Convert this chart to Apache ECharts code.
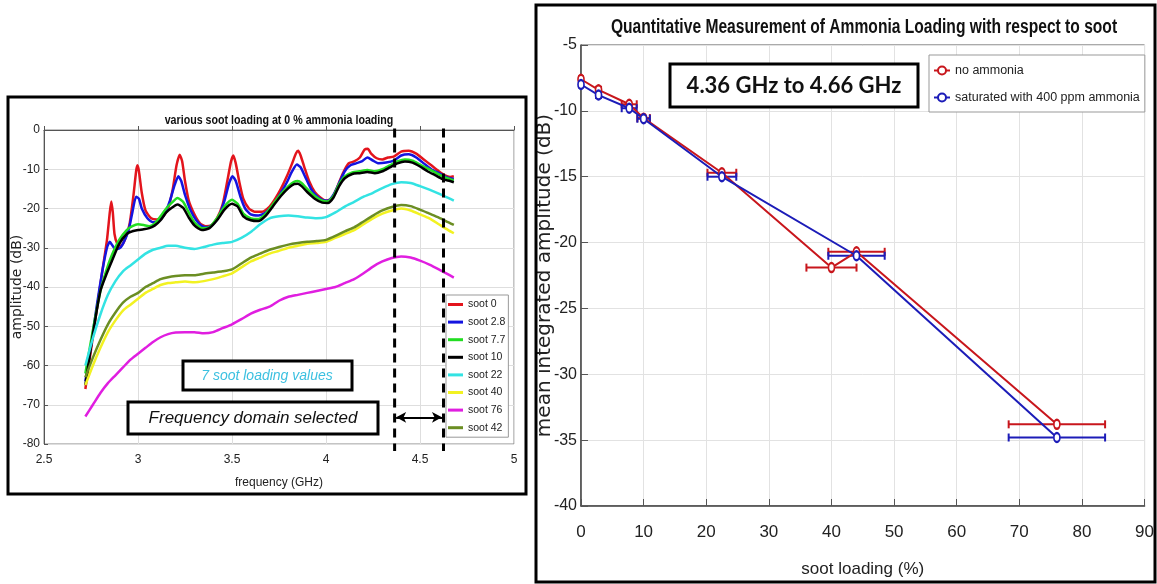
<!DOCTYPE html>
<html>
<head>
<meta charset="utf-8">
<script src="https://cdn.jsdelivr.net/npm/echarts@6/dist/echarts.min.js"></script>
<style>
  html, body { margin: 0; padding: 0; background: #fff; }
  #main { width: 1157px; height: 584px; }
</style>
</head>
<body>
<div id="main"></div>
<script>
// ---- left panel: spectra, [frequency GHz, amplitude dB] ----
const soot0 = [[2.72,-66],[2.75,-56],[2.78,-46],[2.81,-36],[2.835,-28],[2.85,-21],[2.858,-18.2],[2.866,-21],[2.875,-26.5],[2.89,-29],[2.91,-29.5],[2.93,-28],[2.955,-24],[2.975,-17],[2.99,-10.5],[2.997,-9],[3.005,-10.5],[3.02,-16],[3.04,-20.5],[3.07,-22.5],[3.10,-22.8],[3.13,-22.2],[3.16,-20],[3.185,-15],[3.205,-9],[3.222,-6.3],[3.235,-8],[3.25,-13],[3.27,-18],[3.30,-21.5],[3.33,-23.8],[3.36,-24.5],[3.39,-24.3],[3.42,-22.5],[3.45,-19],[3.475,-13],[3.495,-8],[3.507,-6.5],[3.52,-8.5],[3.54,-13.5],[3.56,-17.5],[3.59,-20],[3.62,-20.8],[3.66,-20.8],[3.70,-19.5],[3.73,-17.5],[3.76,-15],[3.79,-12],[3.82,-8.5],[3.84,-6],[3.852,-5.3],[3.865,-6.5],[3.885,-9.5],[3.91,-13],[3.94,-15.8],[3.97,-17.2],[4.00,-18],[4.03,-17.5],[4.06,-14.5],[4.09,-11],[4.12,-8.5],[4.15,-8],[4.18,-7],[4.205,-5],[4.222,-4.8],[4.24,-6],[4.27,-7.2],[4.30,-7.5],[4.33,-7],[4.36,-6.8],[4.40,-5.5],[4.44,-5.3],[4.48,-6],[4.52,-7.5],[4.56,-9],[4.60,-10.5],[4.63,-11.5],[4.66,-12],[4.68,-11.8]]
const soot28 = [[2.72,-64],[2.75,-55],[2.78,-45],[2.81,-36],[2.835,-30],[2.85,-28.5],[2.865,-29.5],[2.88,-30.3],[2.90,-30.2],[2.92,-29],[2.95,-25.5],[2.97,-21],[2.99,-17],[3.005,-17.5],[3.02,-20],[3.05,-22.5],[3.08,-23.5],[3.11,-23.2],[3.14,-21.5],[3.17,-18],[3.195,-14],[3.215,-11.8],[3.23,-13],[3.25,-16.5],[3.28,-20.5],[3.31,-23],[3.34,-24.5],[3.37,-24.8],[3.40,-24],[3.43,-22],[3.46,-18],[3.485,-13.5],[3.503,-11.8],[3.52,-13],[3.545,-17],[3.57,-20],[3.60,-21.5],[3.64,-21.8],[3.68,-21],[3.72,-19],[3.76,-16],[3.79,-13.5],[3.82,-10.5],[3.845,-8.8],[3.865,-9.5],[3.89,-12],[3.92,-15],[3.95,-16.8],[3.98,-17.8],[4.01,-18],[4.04,-16.5],[4.07,-13.5],[4.10,-10.5],[4.13,-9],[4.16,-8.5],[4.19,-8],[4.22,-7],[4.25,-7.8],[4.28,-8.5],[4.32,-8.3],[4.36,-7.8],[4.40,-6.5],[4.44,-6.2],[4.48,-7],[4.52,-8.5],[4.56,-10],[4.60,-11],[4.64,-12],[4.68,-12.5]]
const soot77 = [[2.72,-62],[2.76,-51],[2.80,-41],[2.83,-36],[2.86,-32],[2.90,-28],[2.94,-25.5],[2.97,-24.5],[3.00,-24],[3.03,-24.2],[3.06,-24.5],[3.09,-23.8],[3.12,-22],[3.15,-20],[3.18,-18.5],[3.21,-17.3],[3.24,-18.3],[3.27,-21],[3.30,-23.5],[3.34,-25],[3.38,-24.8],[3.42,-22.5],[3.46,-19.5],[3.50,-17.8],[3.53,-18.8],[3.56,-21.3],[3.60,-22.5],[3.64,-22.7],[3.68,-21.3],[3.72,-18.8],[3.76,-16.3],[3.80,-14.3],[3.83,-13.2],[3.85,-13],[3.87,-13.5],[3.90,-15],[3.94,-16.8],[3.98,-18],[4.01,-18.2],[4.04,-16.8],[4.07,-13.8],[4.10,-11.8],[4.14,-10.8],[4.18,-10.5],[4.22,-10.2],[4.26,-10.5],[4.30,-10],[4.34,-9],[4.38,-8],[4.42,-7.5],[4.46,-7.8],[4.50,-8.8],[4.54,-9.8],[4.58,-10.8],[4.62,-11.8],[4.66,-12.5],[4.68,-12.8]]
const soot10 = [[2.72,-65],[2.76,-52],[2.80,-41],[2.83,-37],[2.86,-33.5],[2.90,-29],[2.94,-26.5],[2.97,-25.8],[3.00,-25.5],[3.03,-25.3],[3.06,-25],[3.09,-24.3],[3.12,-23],[3.15,-21],[3.18,-19.8],[3.21,-19],[3.24,-19.8],[3.27,-22.3],[3.30,-24.3],[3.34,-25.5],[3.38,-25],[3.42,-23],[3.46,-20.3],[3.50,-18.8],[3.53,-19.5],[3.56,-22],[3.60,-23],[3.64,-23.2],[3.68,-21.8],[3.72,-19.3],[3.76,-16.8],[3.80,-14.8],[3.83,-13.8],[3.85,-13.7],[3.87,-14.3],[3.90,-15.8],[3.94,-17.5],[3.98,-18.5],[4.01,-18.6],[4.04,-17.2],[4.07,-14.3],[4.10,-12.3],[4.14,-11.2],[4.18,-11],[4.22,-10.7],[4.26,-11],[4.30,-10.5],[4.34,-9.5],[4.38,-8.5],[4.42,-8],[4.46,-8.3],[4.50,-9.3],[4.54,-10.5],[4.58,-11.5],[4.62,-12.5],[4.66,-13],[4.68,-13.3]]
const soot22 = [[2.72,-60],[2.76,-53],[2.80,-47],[2.84,-42],[2.88,-38.5],[2.92,-36],[2.96,-34.5],[3.00,-33],[3.04,-31.5],[3.08,-30.5],[3.12,-30],[3.16,-29.5],[3.20,-29.5],[3.25,-30],[3.30,-30.3],[3.35,-29.8],[3.40,-29.2],[3.45,-28.8],[3.50,-28.5],[3.55,-27.5],[3.60,-26],[3.65,-24],[3.70,-22.5],[3.75,-22],[3.80,-21.8],[3.85,-22],[3.90,-22.3],[3.95,-22.5],[4.00,-22.2],[4.05,-21],[4.10,-19.5],[4.15,-18.3],[4.20,-17],[4.25,-16],[4.30,-14.8],[4.35,-13.8],[4.40,-13.3],[4.45,-13.5],[4.50,-14.3],[4.55,-15.2],[4.60,-16.2],[4.65,-17.3],[4.68,-18]]
const soot40 = [[2.72,-65],[2.76,-60],[2.80,-55.5],[2.84,-51.5],[2.88,-48.5],[2.92,-46],[2.96,-44.5],[3.00,-43],[3.04,-41.5],[3.08,-40.5],[3.12,-39.5],[3.16,-39],[3.20,-38.8],[3.25,-38.6],[3.30,-38.8],[3.35,-38.5],[3.40,-38],[3.45,-37.3],[3.50,-36.5],[3.55,-35],[3.60,-33.5],[3.65,-32.5],[3.70,-31.5],[3.75,-30.8],[3.80,-30],[3.85,-29.5],[3.90,-29],[3.95,-28.8],[4.00,-28.5],[4.05,-27.5],[4.10,-26.5],[4.15,-25.5],[4.20,-24],[4.25,-22.5],[4.30,-21.3],[4.35,-20.5],[4.40,-20],[4.45,-20.5],[4.50,-21.5],[4.55,-22.5],[4.60,-24],[4.65,-25.5],[4.68,-26.3]]
const soot76 = [[2.72,-73],[2.76,-70],[2.80,-67],[2.84,-64.5],[2.88,-62.5],[2.92,-60.5],[2.96,-58.5],[3.00,-57],[3.04,-55.5],[3.08,-54],[3.12,-52.8],[3.16,-52],[3.20,-51.6],[3.25,-51.5],[3.30,-51.5],[3.35,-51.8],[3.40,-51.5],[3.45,-50.5],[3.50,-49.5],[3.55,-48.2],[3.60,-46.8],[3.65,-45.8],[3.70,-45],[3.75,-43.5],[3.80,-42.5],[3.85,-42],[3.90,-41.5],[3.95,-41],[4.00,-40.5],[4.05,-40],[4.10,-39],[4.15,-38],[4.20,-36.5],[4.25,-34.8],[4.30,-33.5],[4.35,-32.6],[4.40,-32.2],[4.45,-32.5],[4.50,-33.3],[4.55,-34.3],[4.60,-35.5],[4.65,-36.8],[4.68,-37.6]]
const soot42 = [[2.72,-63],[2.76,-58],[2.80,-53.5],[2.84,-49.5],[2.88,-46.5],[2.92,-44],[2.96,-42.5],[3.00,-41.5],[3.04,-40],[3.08,-39],[3.12,-38],[3.16,-37.5],[3.20,-37.2],[3.25,-37],[3.30,-37],[3.35,-36.6],[3.40,-36.3],[3.45,-36],[3.50,-35.5],[3.55,-34],[3.60,-32.5],[3.65,-31.5],[3.70,-30.5],[3.75,-29.8],[3.80,-29.2],[3.85,-28.8],[3.90,-28.5],[3.95,-28.3],[4.00,-28],[4.05,-27],[4.10,-25.8],[4.15,-24.8],[4.20,-23.3],[4.25,-21.8],[4.30,-20.5],[4.35,-19.6],[4.40,-19.1],[4.45,-19.4],[4.50,-20.3],[4.55,-21.3],[4.60,-22.3],[4.65,-23.5],[4.68,-24.2]]

const spectraNames = ['soot 0', 'soot 2.8', 'soot 7.7', 'soot 10', 'soot 22', 'soot 40', 'soot 76', 'soot 42']
const spectraColors = ['#e3141c', '#1414e0', '#22dd22', '#000000', '#33e3e3', '#f2f222', '#e01ee0', '#6b8e23']
const spectra = [soot0, soot28, soot77, soot10, soot22, soot40, soot76, soot42]

// selected band (GHz) and arrow level (dB)
const bandLow = 4.365
const bandHigh = 4.625
const arrowLevel = -73.2

// ---- right panel: mean integrated amplitude vs soot loading ----
const noNh3Soot = [0, 2.8, 7.7, 10, 22.5, 40, 44, 76]
const noNh3Amp = [-7.6, -8.4, -9.5, -10.55, -14.7, -21.9, -20.7, -33.8]
const noNh3Err = [0.3, 0.4, 1.2, 1.0, 2.3, 4.0, 4.5, 7.7]

const nh3Soot = [0, 2.8, 7.7, 10, 22.5, 44, 76]
const nh3Amp = [-8.0, -8.8, -9.8, -10.6, -15.0, -21.0, -34.8]
const nh3Err = [0.3, 0.4, 1.2, 1.0, 2.3, 4.5, 7.7]

const RED = '#c8161c'
const BLUE = '#1c1cb8'
const SANS = "'Liberation Sans', Arial, sans-serif"

const chart = echarts.init(document.getElementById('main'))

function zip(xs, ys, es) {
  return xs.map((x, i) => es ? [x, ys[i], es[i]] : [x, ys[i]])
}

// horizontal error bars with end caps
function errorBarItem(color) {
  return function (params, api) {
    const x = api.value(0), y = api.value(1), e = api.value(2)
    const a = api.coord([x - e, y])
    const b = api.coord([x + e, y])
    const cap = 4
    const st = { stroke: color, lineWidth: 2 }
    return {
      type: 'group',
      children: [
        { type: 'line', shape: { x1: a[0], y1: a[1], x2: b[0], y2: b[1] }, style: st },
        { type: 'line', shape: { x1: a[0], y1: a[1] - cap, x2: a[0], y2: a[1] + cap }, style: st },
        { type: 'line', shape: { x1: b[0], y1: b[1] - cap, x2: b[0], y2: b[1] + cap }, style: st }
      ]
    }
  }
}

const spectraSeries = spectra.map((d, i) => ({
  name: spectraNames[i],
  type: 'line',
  xAxisIndex: 0,
  yAxisIndex: 0,
  data: d,
  symbol: 'none',
  smooth: 0.2,
  color: spectraColors[i],
  lineStyle: { width: 2.5, color: spectraColors[i] },
  z: 3
}))

const option = {
  backgroundColor: '#ffffff',
  animation: false,
  grid: [
    { left: 44, top: 130, width: 470, height: 314, show: true, borderColor: '#888', borderWidth: 1 },
    { left: 581, top: 45, width: 565, height: 461, show: true, borderColor: '#555', borderWidth: 1 }
  ],
  xAxis: [
    {
      gridIndex: 0, type: 'value', min: 2.5, max: 5, interval: 0.5,
      name: 'frequency (GHz)', nameLocation: 'middle', nameGap: 33, nameMoveOverlap: false,
      nameTextStyle: { fontFamily: SANS, fontSize: 12, color: '#222' },
      axisLine: { lineStyle: { color: '#555' } },
      axisTick: { inside: true, length: 4, lineStyle: { color: '#555' } },
      axisLabel: { fontFamily: SANS, fontSize: 12, color: '#222', margin: 10 },
      splitLine: { show: true, lineStyle: { color: '#dedede' } }
    },
    {
      gridIndex: 1, type: 'value', min: 0, max: 90, interval: 10,
      name: 'soot loading (%)', nameLocation: 'middle', nameGap: 55, nameMoveOverlap: false,
      nameTextStyle: { fontFamily: SANS, fontSize: 17, color: '#222' },
      axisLine: { lineStyle: { color: '#444', width: 1.5 } },
      axisTick: { inside: true, length: 7, lineStyle: { color: '#555' } },
      axisLabel: { fontFamily: SANS, fontSize: 17, color: '#222', margin: 18 },
      splitLine: { show: true, lineStyle: { color: '#e2e2e2' } }
    }
  ],
  yAxis: [
    {
      gridIndex: 0, type: 'value', min: -80, max: 0, interval: 10,
      name: 'amplitude (dB)', nameLocation: 'middle', nameGap: 20, nameMoveOverlap: false,
      nameTextStyle: { fontFamily: 'DejaVu Sans', fontSize: 14, color: '#222' },
      axisLine: { lineStyle: { color: '#555' } },
      axisTick: { inside: true, length: 4, lineStyle: { color: '#555' } },
      axisLabel: { fontFamily: SANS, fontSize: 12, color: '#222', margin: 4 },
      splitLine: { show: true, lineStyle: { color: '#dedede' } }
    },
    {
      gridIndex: 1, type: 'value', min: -40, max: -5, interval: 5,
      name: 'mean integrated amplitude (dB)', nameLocation: 'middle', nameGap: 26, nameMoveOverlap: false,
      nameTextStyle: { fontFamily: 'DejaVu Sans', fontSize: 20, color: '#222' },
      axisLine: { lineStyle: { color: '#444', width: 1.5 } },
      axisTick: { inside: true, length: 7, lineStyle: { color: '#555' } },
      axisLabel: { fontFamily: SANS, fontSize: 16, color: '#222', margin: 4 },
      splitLine: { show: true, lineStyle: { color: '#e2e2e2' } }
    }
  ],
  legend: [
    {
      data: spectraNames,
      orient: 'vertical',
      left: 446, top: 295,
      padding: [3, 3, 3, 2],
      itemGap: 4.6,
      itemWidth: 15, itemHeight: 3,
      icon: 'rect',
      backgroundColor: '#fff',
      borderColor: '#999', borderWidth: 1,
      textStyle: { fontFamily: SANS, fontSize: 10.5, color: '#222', lineHeight: 13 }
    },
    {
      data: ['no ammonia', 'saturated with 400 ppm ammonia'],
      orient: 'vertical',
      left: 929, top: 55,
      padding: [9, 5, 8, 4],
      itemGap: 14,
      itemWidth: 16, itemHeight: 10,
      backgroundColor: '#fff',
      borderColor: '#999', borderWidth: 1,
      textStyle: { fontFamily: SANS, fontSize: 12.5, color: '#222' }
    }
  ],
  graphic: [
    // panel frames
    { type: 'rect', shape: { x: 8, y: 97, width: 518, height: 397 }, style: { fill: 'none', stroke: '#000', lineWidth: 3 }, z: 100 },
    { type: 'rect', shape: { x: 536, y: 5, width: 619, height: 577 }, style: { fill: 'none', stroke: '#000', lineWidth: 3 }, z: 100 },
    // titles (squeezed horizontally to mimic the condensed face)
    { type: 'text', x: 279, y: 120, scaleX: 0.82, style: { text: 'various soot loading at 0 % ammonia loading', font: "bold 13px " + SANS, fill: '#111', textAlign: 'center', textVerticalAlign: 'middle' }, z: 100 },
    { type: 'text', x: 864, y: 27, scaleX: 0.78, style: { text: 'Quantitative Measurement of Ammonia Loading with respect to soot', font: "bold 20px " + SANS, fill: '#111', textAlign: 'center', textVerticalAlign: 'middle' }, z: 100 },
    // annotation boxes
    { type: 'rect', shape: { x: 183, y: 361, width: 169, height: 29 }, style: { fill: '#fff', stroke: '#000', lineWidth: 3 }, z: 100 },
    { type: 'text', x: 267, y: 376, style: { text: '7 soot loading values', font: "italic 14px " + SANS, fill: '#3cc0e0', textAlign: 'center', textVerticalAlign: 'middle' }, z: 101 },
    { type: 'rect', shape: { x: 128, y: 402, width: 250, height: 32 }, style: { fill: '#fff', stroke: '#000', lineWidth: 3 }, z: 100 },
    { type: 'text', x: 253, y: 418, style: { text: 'Frequency domain selected', font: "italic 17px " + SANS, fill: '#111', textAlign: 'center', textVerticalAlign: 'middle' }, z: 101 },
    { type: 'rect', shape: { x: 670, y: 64, width: 248, height: 43 }, style: { fill: '#fff', stroke: '#000', lineWidth: 3 }, z: 100 },
    { type: 'text', x: 794, y: 86, style: { text: '4.36 GHz to 4.66 GHz', font: "bold 22px Lato, 'Open Sans', sans-serif", fill: '#111', textAlign: 'center', textVerticalAlign: 'middle' }, z: 101 }
  ],
  series: [
    ...spectraSeries,
    {
      name: 'band low', type: 'line', xAxisIndex: 0, yAxisIndex: 0,
      data: [[bandLow, 0.4], [bandLow, -81.8]],
      symbol: 'none', clip: false, silent: true, z: 5,
      lineStyle: { color: '#000', width: 3, type: [9, 6] }
    },
    {
      name: 'band high', type: 'line', xAxisIndex: 0, yAxisIndex: 0,
      data: [[bandHigh, 0.4], [bandHigh, -81.8]],
      symbol: 'none', clip: false, silent: true, z: 5,
      lineStyle: { color: '#000', width: 3, type: [9, 6] },
      markLine: {
        silent: true,
        symbol: ['arrow', 'arrow'],
        symbolSize: [8, 10],
        label: { show: false },
        lineStyle: { color: '#000', width: 2, type: 'solid' },
        data: [[{ coord: [bandLow + 0.008, arrowLevel] }, { coord: [bandHigh - 0.008, arrowLevel] }]]
      }
    },
    {
      name: 'no ammonia', type: 'line', xAxisIndex: 1, yAxisIndex: 1,
      data: zip(noNh3Soot, noNh3Amp),
      color: RED,
      symbol: 'emptyCircle', symbolSize: [6, 9],
      lineStyle: { color: RED, width: 2 },
      itemStyle: { color: RED, borderWidth: 1.5 },
      z: 4
    },
    {
      name: 'saturated with 400 ppm ammonia', type: 'line', xAxisIndex: 1, yAxisIndex: 1,
      data: zip(nh3Soot, nh3Amp),
      color: BLUE,
      symbol: 'emptyCircle', symbolSize: [6, 9],
      lineStyle: { color: BLUE, width: 2 },
      itemStyle: { color: BLUE, borderWidth: 1.5 },
      z: 4
    },
    {
      name: 'no ammonia err', type: 'custom', xAxisIndex: 1, yAxisIndex: 1,
      data: zip(noNh3Soot, noNh3Amp, noNh3Err),
      renderItem: errorBarItem(RED), silent: true, z: 3
    },
    {
      name: 'nh3 err', type: 'custom', xAxisIndex: 1, yAxisIndex: 1,
      data: zip(nh3Soot, nh3Amp, nh3Err),
      renderItem: errorBarItem(BLUE), silent: true, z: 3
    }
  ]
}

chart.setOption(option)
</script>
</body>
</html>
